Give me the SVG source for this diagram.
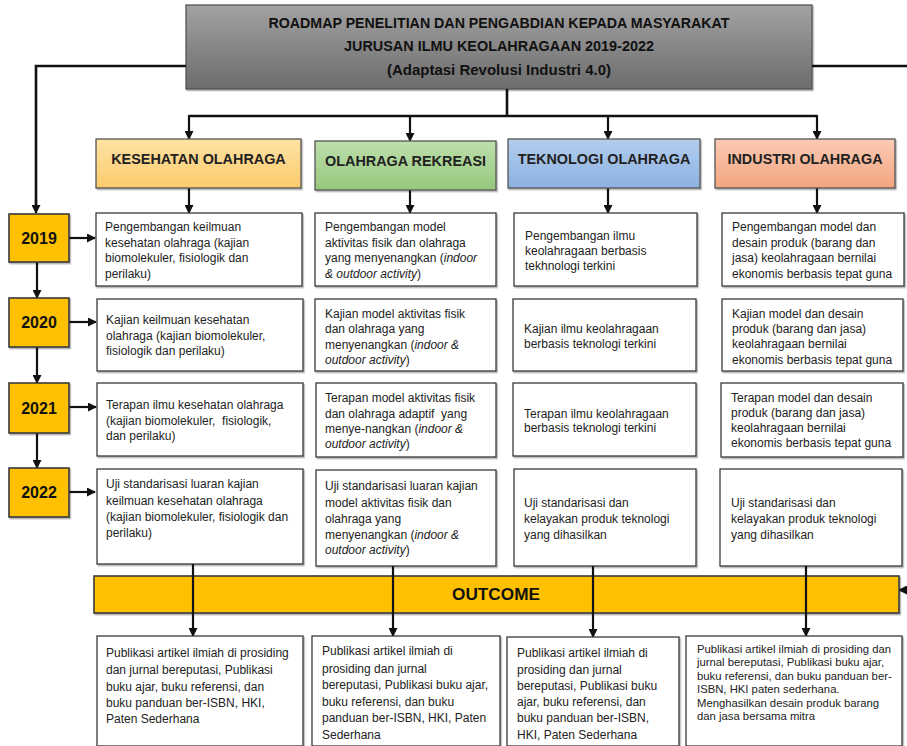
<svg xmlns="http://www.w3.org/2000/svg" width="907" height="746" viewBox="0 0 907 746">
<style>
.t{font-family:"Liberation Sans",Arial,sans-serif;font-size:12px;fill:#222}
.s{font-size:11.3px}
.i{font-style:italic}
.cat{font-family:"Liberation Sans",Arial,sans-serif;font-size:14.4px;font-weight:bold;fill:#222;text-anchor:middle}
.yr{font-family:"Liberation Sans",Arial,sans-serif;font-size:16px;font-weight:bold;fill:#111;text-anchor:middle}
.hd{font-family:"Liberation Sans",Arial,sans-serif;font-size:14.5px;font-weight:bold;fill:#111;text-anchor:middle}
.box{fill:#fff;stroke:#3a3a3a;stroke-width:1.3;filter:url(#sh)}
.yb{fill:#FFC000;stroke:#3a3a3a;stroke-width:1.6;filter:url(#sh)}
.cb{stroke:#555;stroke-width:1.3;filter:url(#sh)}
.ln{fill:none;stroke:#111;stroke-width:2.6}
.ar{fill:none;stroke:#111;stroke-width:2.2;marker-end:url(#ah)}
</style>
<defs>
<filter id="sh" x="-5%" y="-5%" width="112%" height="120%"><feDropShadow dx="1.2" dy="1.5" stdDeviation="0.7" flood-color="#000" flood-opacity="0.3"/></filter>
<marker id="ah" markerWidth="9" markerHeight="9" refX="8" refY="4.5" orient="auto" markerUnits="userSpaceOnUse"><path d="M0,0 L9,4.5 L0,9 Z" fill="#111"/></marker>
<linearGradient id="gh" x1="0" y1="0" x2="0" y2="1"><stop offset="0" stop-color="#a2a2a2"/><stop offset="1" stop-color="#6c6c6c"/></linearGradient>
<linearGradient id="g1" x1="0" y1="0" x2="0" y2="1"><stop offset="0" stop-color="#FFE2A4"/><stop offset="1" stop-color="#FCCB6C"/></linearGradient>
<linearGradient id="g2" x1="0" y1="0" x2="0" y2="1"><stop offset="0" stop-color="#BEDFAB"/><stop offset="1" stop-color="#96C87E"/></linearGradient>
<linearGradient id="g3" x1="0" y1="0" x2="0" y2="1"><stop offset="0" stop-color="#B3CDEE"/><stop offset="1" stop-color="#8CB2E1"/></linearGradient>
<linearGradient id="g4" x1="0" y1="0" x2="0" y2="1"><stop offset="0" stop-color="#FACBB4"/><stop offset="1" stop-color="#F3A480"/></linearGradient>
</defs>

<g id="header">
<rect x="186" y="5" width="626" height="84" fill="url(#gh)" stroke="#555" stroke-width="1.3" filter="url(#sh)"/>
<text class="hd" x="499" y="28" textLength="461" lengthAdjust="spacingAndGlyphs">ROADMAP PENELITIAN DAN PENGABDIAN KEPADA MASYARAKAT</text>
<text class="hd" x="499" y="51" textLength="310" lengthAdjust="spacingAndGlyphs">JURUSAN ILMU KEOLAHRAGAAN 2019-2022</text>
<text class="hd" x="499" y="75" textLength="224" lengthAdjust="spacingAndGlyphs">(Adaptasi Revolusi Industri 4.0)</text>
</g>

<g id="connectors">
<path class="ln" d="M186,66 H36 V205"/>
<path class="ar" d="M36,200 V213"/>
<path class="ln" d="M812,66 H912 V590 H905"/>
<path class="ar" d="M906,590 H899"/>
<path class="ln" d="M507,89 V116"/>
<path class="ln" d="M189,116 H817"/>
<path class="ar" d="M189,115 V139"/>
<path class="ar" d="M410,116 V141"/>
<path class="ar" d="M608,116 V139"/>
<path class="ar" d="M817,115 V139"/>
<path class="ar" d="M189,188 V213"/>
<path class="ar" d="M410,190 V213"/>
<path class="ar" d="M608,188 V213"/>
<path class="ar" d="M817,188 V213"/>
<path class="ar" d="M37,262 V298"/>
<path class="ar" d="M37,347 V383"/>
<path class="ar" d="M37,433 V468"/>
<path class="ar" d="M69,238 H95"/>
<path class="ar" d="M69,322 H96"/>
<path class="ar" d="M69,407 H96"/>
<path class="ar" d="M69,492 H95"/>
</g>

<g id="cat-kesehatan"><rect class="cb" x="96" y="139" width="205" height="49" fill="url(#g1)"/><text class="cat" x="198.5" y="164">KESEHATAN OLAHRAGA</text></g>
<g id="cat-rekreasi"><rect class="cb" x="315" y="141" width="181" height="49" fill="url(#g2)"/><text class="cat" x="405.5" y="166">OLAHRAGA REKREASI</text></g>
<g id="cat-teknologi"><rect class="cb" x="508" y="139" width="192" height="49" fill="url(#g3)"/><text class="cat" x="604" y="164">TEKNOLOGI OLAHRAGA</text></g>
<g id="cat-industri"><rect class="cb" x="715" y="139" width="180" height="49" fill="url(#g4)"/><text class="cat" x="805" y="164">INDUSTRI OLAHRAGA</text></g>

<g id="y2019"><rect class="yb" x="9" y="214" width="60" height="48"/><text class="yr" x="39" y="244">2019</text></g>
<g id="y2020"><rect class="yb" x="9" y="298" width="60" height="49"/><text class="yr" x="39" y="328">2020</text></g>
<g id="y2021"><rect class="yb" x="9" y="383" width="60" height="50"/><text class="yr" x="39" y="414">2021</text></g>
<g id="y2022"><rect class="yb" x="9" y="468" width="60" height="49"/><text class="yr" x="39" y="498">2022</text></g>

<g id="c1-2019"><rect class="box" x="96" y="213" width="206" height="73"/>
<text class="t" x="105" y="231">Pengembangan keilmuan</text>
<text class="t" x="105" y="246.5">kesehatan olahraga (kajian</text>
<text class="t" x="105" y="262">biomolekuler, fisiologik dan</text>
<text class="t" x="105" y="277.5">perilaku)</text></g>
<g id="c2-2019"><rect class="box" x="315" y="213" width="181" height="73"/>
<text class="t" x="325" y="231">Pengembangan model</text>
<text class="t" x="325" y="246.5">aktivitas fisik dan olahraga</text>
<text class="t" x="325" y="262">yang menyenangkan (<tspan class="i">indoor</tspan></text>
<text class="t" x="325" y="277.5"><tspan class="i">&amp; outdoor activity</tspan>)</text></g>
<g id="c3-2019"><rect class="box" x="514" y="213" width="183" height="73"/>
<text class="t" x="525" y="240">Pengembangan ilmu</text>
<text class="t" x="525" y="255">keolahragaan berbasis</text>
<text class="t" x="525" y="270">tekhnologi terkini</text></g>
<g id="c4-2019"><rect class="box" x="722" y="213" width="182" height="73"/>
<text class="t" x="732" y="231">Pengembangan model dan</text>
<text class="t" x="732" y="246.5">desain produk (barang dan</text>
<text class="t" x="732" y="262">jasa) keolahragaan bernilai</text>
<text class="t" x="732" y="277.5">ekonomis berbasis tepat guna</text></g>

<g id="c1-2020"><rect class="box" x="97" y="299" width="206" height="72"/>
<text class="t" x="106" y="324">Kajian keilmuan kesehatan</text>
<text class="t" x="106" y="340">olahraga (kajian biomolekuler,</text>
<text class="t" x="106" y="355">fisiologik dan perilaku)</text></g>
<g id="c2-2020"><rect class="box" x="315" y="299" width="181" height="72"/>
<text class="t" x="325" y="317.5">Kajian model aktivitas fisik</text>
<text class="t" x="325" y="333">dan olahraga yang</text>
<text class="t" x="325" y="348.5">menyenangkan (<tspan class="i">indoor &amp;</tspan></text>
<text class="t" x="325" y="364"><tspan class="i">outdoor activity</tspan>)</text></g>
<g id="c3-2020"><rect class="box" x="513" y="299" width="183" height="72"/>
<text class="t" x="524" y="333">Kajian ilmu keolahragaan</text>
<text class="t" x="524" y="348">berbasis teknologi terkini</text></g>
<g id="c4-2020"><rect class="box" x="722" y="299" width="181" height="72"/>
<text class="t" x="732" y="317.5">Kajian model dan desain</text>
<text class="t" x="732" y="333">produk (barang dan jasa)</text>
<text class="t" x="732" y="348">keolahragaan bernilai</text>
<text class="t" x="732" y="363.5">ekonomis berbasis tepat guna</text></g>

<g id="c1-2021"><rect class="box" x="97" y="383" width="206" height="73"/>
<text class="t" x="106" y="408.5">Terapan ilmu kesehatan olahraga</text>
<text class="t" x="106" y="425" xml:space="preserve">(kajian biomolekuler,  fisiologik,</text>
<text class="t" x="106" y="440">dan perilaku)</text></g>
<g id="c2-2021"><rect class="box" x="316" y="383" width="180" height="74"/>
<text class="t" x="325" y="402">Terapan model aktivitas fisik</text>
<text class="t" x="325" y="417.5" xml:space="preserve">dan olahraga adaptif  yang</text>
<text class="t" x="325" y="433">menye-nangkan (<tspan class="i">indoor &amp;</tspan></text>
<text class="t" x="325" y="448"><tspan class="i">outdoor activity</tspan>)</text></g>
<g id="c3-2021"><rect class="box" x="513" y="383" width="183" height="73"/>
<text class="t" x="524" y="417.5">Terapan ilmu keolahragaan</text>
<text class="t" x="524" y="432">berbasis teknologi terkini</text></g>
<g id="c4-2021"><rect class="box" x="721" y="383" width="182" height="74"/>
<text class="t" x="731" y="401.5">Terapan model dan desain</text>
<text class="t" x="731" y="416.5">produk (barang dan jasa)</text>
<text class="t" x="731" y="431.5">keolahragaan bernilai</text>
<text class="t" x="731" y="447">ekonomis berbasis tepat guna</text></g>

<g id="c1-2022"><rect class="box" x="97" y="469" width="206" height="95"/>
<text class="t" x="106" y="487.5">Uji standarisasi luaran kajian</text>
<text class="t" x="106" y="504.5">keilmuan kesehatan olahraga</text>
<text class="t" x="106" y="521">(kajian biomolekuler, fisiologik dan</text>
<text class="t" x="106" y="537">perilaku)</text></g>
<g id="c2-2022"><rect class="box" x="316" y="470" width="180" height="96"/>
<text class="t" x="325" y="490">Uji standarisasi luaran kajian</text>
<text class="t" x="325" y="506.5">model aktivitas fisik dan</text>
<text class="t" x="325" y="522.5">olahraga yang</text>
<text class="t" x="325" y="538.5">menyenangkan (<tspan class="i">indoor &amp;</tspan></text>
<text class="t" x="325" y="554"><tspan class="i">outdoor activity</tspan>)</text></g>
<g id="c3-2022"><rect class="box" x="514" y="469" width="182" height="97"/>
<text class="t" x="524" y="507">Uji standarisasi dan</text>
<text class="t" x="524" y="523">kelayakan produk teknologi</text>
<text class="t" x="524" y="538.5">yang dihasilkan</text></g>
<g id="c4-2022"><rect class="box" x="720" y="469" width="182" height="97"/>
<text class="t" x="731" y="507">Uji standarisasi dan</text>
<text class="t" x="731" y="523">kelayakan produk teknologi</text>
<text class="t" x="731" y="538.5">yang dihasilkan</text></g>

<g id="outcome"><rect class="yb" x="94" y="576" width="805" height="37"/>
<text class="yr" x="496" y="600" style="font-size:17.2px">OUTCOME</text></g>

<g id="connectors-outcome">
<path class="ar" d="M193,564 V636"/>
<path class="ar" d="M393,566 V636"/>
<path class="ar" d="M593,566 V637"/>
<path class="ar" d="M806,566 V636"/>
</g>

<g id="o1"><rect class="box" x="97" y="636" width="206" height="110"/>
<text class="t" x="106" y="657">Publikasi artikel ilmiah di prosiding</text>
<text class="t" x="106" y="673.5">dan jurnal bereputasi, Publikasi</text>
<text class="t" x="106" y="690.5">buku ajar, buku referensi, dan</text>
<text class="t" x="106" y="707">buku panduan ber-ISBN, HKI,</text>
<text class="t" x="106" y="723">Paten Sederhana</text></g>
<g id="o2"><rect class="box" x="312" y="636" width="188" height="110"/>
<text class="t" x="322" y="655">Publikasi artikel ilmiah di</text>
<text class="t" x="322" y="672.5">prosiding dan jurnal</text>
<text class="t" x="322" y="689">bereputasi, Publikasi buku ajar,</text>
<text class="t" x="322" y="705.5">buku referensi, dan buku</text>
<text class="t" x="322" y="722">panduan ber-ISBN, HKI, Paten</text>
<text class="t" x="322" y="738.5">Sederhana</text></g>
<g id="o3"><rect class="box" x="507" y="637" width="172" height="109"/>
<text class="t" x="517" y="657">Publikasi artikel ilmiah di</text>
<text class="t" x="517" y="673.5">prosiding dan jurnal</text>
<text class="t" x="517" y="689.5">bereputasi, Publikasi buku</text>
<text class="t" x="517" y="705.5">ajar, buku referensi, dan</text>
<text class="t" x="517" y="722">buku panduan ber-ISBN,</text>
<text class="t" x="517" y="738.5">HKI, Paten Sederhana</text></g>
<g id="o4"><rect class="box" x="686" y="636" width="216" height="110"/>
<text class="t s" x="697" y="652.5">Publikasi artikel ilmiah di prosiding dan</text>
<text class="t s" x="697" y="666">jurnal bereputasi, Publikasi buku ajar,</text>
<text class="t s" x="697" y="679.5">buku referensi, dan buku panduan ber-</text>
<text class="t s" x="697" y="693">ISBN, HKI paten sederhana.</text>
<text class="t s" x="697" y="706.5">Menghasilkan desain produk barang</text>
<text class="t s" x="697" y="720">dan jasa bersama mitra</text></g>
</svg>
